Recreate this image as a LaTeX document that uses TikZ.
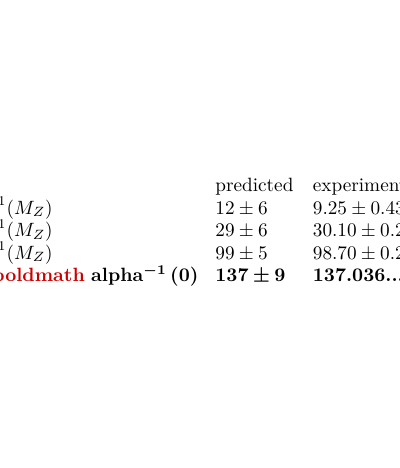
\documentclass[tikz,border=0pt]{standalone}
\usepackage{xcolor}
\usepackage{bm}
\definecolor{errred}{RGB}{204,0,0}
\begin{document}
\begin{tikzpicture}[x=0.52pt,y=-0.52pt,
    cell/.style={inner sep=0pt, anchor=base west},
    lab/.style={inner sep=0pt, anchor=base east}]
  \useasboundingbox (0,0) rectangle (400,468);
  \clip (0,0) rectangle (400,468);

  % Header row
  \node[cell] (pred) at (215,191.5) {predicted};
  \node[cell] (expt) at (312.5,191.5) {experimental};

  % Couplings at M_Z
  \foreach \i/\y/\p/\e in {1/214/12\pm 6/9.25\pm 0.43,
                           2/236.5/29\pm 6/30.10\pm 0.21,
                           3/259/99\pm 5/98.70\pm 0.25} {
    \node[lab] (alpha\i) at (53,\y) {$\alpha_{\i}^{-1}(M_Z)$};
    \node[cell] (pred\i) at (215,\y) {$\p$};
    \node[cell] (expt\i) at (312.5,\y) {$\e$};
  }

  % Low energy row
  \node[cell] (alpha0) at (-8,281.5) {\textcolor{errred}{\bfseries boldmath} \bfseries alpha$^{\bm{-1}}$\kern1.8pt(0)};
  \node[cell] (pred0) at (215,281.5) {$\bm{137\pm 9}$};
  \node[cell] (expt0) at (312.5,281.5) {\bfseries 137.036...};
\end{tikzpicture}
\end{document}
